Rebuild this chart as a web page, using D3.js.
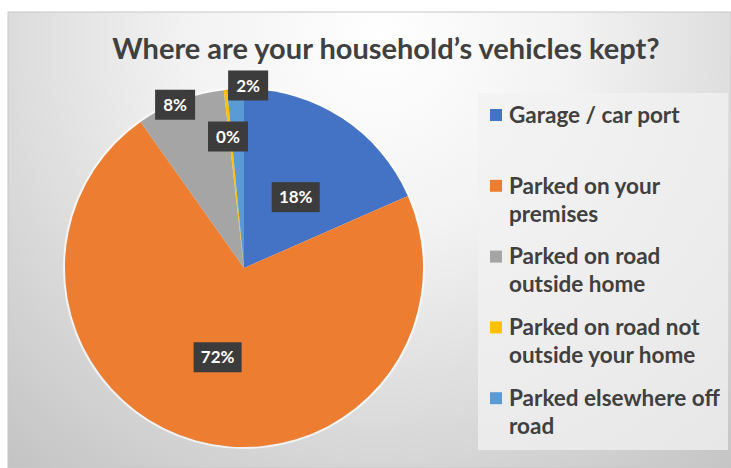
<!DOCTYPE html>
<html>
<head>
<meta charset="utf-8">
<script src="https://cdn.jsdelivr.net/npm/d3@7"></script>
<style>
  body { margin: 0; background: #fff; }
  svg { display: block; }
</style>
</head>
<body>
<script>
// Chart data
var categories = ["Garage / car port", "Parked on your premises", "Parked on road outside home",
  "Parked on road not outside your home", "Parked elsewhere off road"];
var shares = [18.4, 71.8, 8.0, 0.3, 1.5];
var legendLines = [["Garage / car port"], ["Parked on your", "premises"], ["Parked on road", "outside home"],
  ["Parked on road not", "outside your home"], ["Parked elsewhere off", "road"]];
var colors = ["#4472c4", "#ed7d31", "#a5a5a5", "#ffc000", "#5b9bd5"];

var svgWidth = 731, svgHeight = 468;
var cx = 244, cy = 268, radius = 179;

// label placement (fraction of radius, angle nudge in degrees)
var labelRadius = [0.49, 0.52, 0.99, 0.74, 1.02];
var labelNudge = [3, 1, -2, -1, 4];

var svg = d3.select("body").append("svg")
  .attr("width", svgWidth)
  .attr("height", svgHeight);

var defs = svg.append("defs");
var grad = defs.append("radialGradient")
  .attr("id", "bg")
  .attr("gradientUnits", "userSpaceOnUse")
  .attr("cx", 380).attr("cy", 40).attr("r", 560);
grad.append("stop").attr("offset", "0").attr("stop-color", "#ffffff");
grad.append("stop").attr("offset", "0.35").attr("stop-color", "#f2f2f2");
grad.append("stop").attr("offset", "1").attr("stop-color", "#c4c4c4");

// chart area
svg.append("rect")
  .attr("x", 8).attr("y", 12)
  .attr("width", svgWidth - 8).attr("height", svgHeight - 12)
  .attr("fill", "url(#bg)")
  .attr("stroke", "#c8c8c8")
  .attr("stroke-width", 1);

// title
svg.append("text")
  .attr("x", 386).attr("y", 59)
  .attr("text-anchor", "middle")
  .attr("font-family", "Lato, 'Noto Sans', sans-serif")
  .attr("font-weight", "bold")
  .attr("font-size", "29px")
  .attr("fill", "#404040")
  .text("Where are your household\u2019s vehicles kept?");

// pie
var pie = d3.pie().sort(null).value(d => d);
var arc = d3.arc().innerRadius(0).outerRadius(radius);
var arcs = pie(shares);

var pieGroup = svg.append("g")
  .attr("transform", `translate(${cx}, ${cy})`);

pieGroup.append("circle")
  .attr("r", radius + 1)
  .attr("fill", "none")
  .attr("stroke", "#ffffff")
  .attr("stroke-opacity", 0.7)
  .attr("stroke-width", 2);

pieGroup.selectAll("path")
  .data(arcs)
  .enter()
  .append("path")
  .attr("d", arc)
  .attr("fill", (d, i) => colors[i]);

// data labels
var labels = pieGroup.selectAll("g.lbl")
  .data(arcs)
  .enter()
  .append("g")
  .attr("class", "lbl")
  .attr("transform", function(d, i) {
    var a = (d.startAngle + d.endAngle) / 2 + labelNudge[i] * Math.PI / 180;
    var r = labelRadius[i] * radius;
    return `translate(${r * Math.sin(a)}, ${-r * Math.cos(a)})`;
  });

labels.append("rect")
  .attr("x", d => Math.round(d.value) >= 10 ? -24 : -20)
  .attr("y", -15)
  .attr("width", d => Math.round(d.value) >= 10 ? 48 : 40)
  .attr("height", 30)
  .attr("fill", "#3c3c3c");

labels.append("text")
  .attr("text-anchor", "middle")
  .attr("dy", "0.36em")
  .attr("font-family", "Lato, 'Noto Sans', sans-serif")
  .attr("font-weight", "bold")
  .attr("font-size", "17px")
  .attr("fill", "#ffffff")
  .text(d => Math.round(d.value) + "%");

// legend
svg.append("rect")
  .attr("x", 478).attr("y", 93)
  .attr("width", 250).attr("height", 357)
  .attr("fill", "#f2f2f2")
  .attr("fill-opacity", 0.75);

var legend = svg.selectAll("g.legend")
  .data(categories)
  .enter()
  .append("g")
  .attr("class", "legend")
  .attr("transform", (d, i) => `translate(490, ${115 + i * 70.8})`);

legend.append("rect")
  .attr("x", 0).attr("y", -6)
  .attr("width", 12).attr("height", 12)
  .attr("fill", (d, i) => colors[i]);

legend.append("text")
  .attr("font-family", "Lato, 'Noto Sans', sans-serif")
  .attr("font-weight", "bold")
  .attr("font-size", "22.5px")
  .attr("fill", "#404040")
  .selectAll("tspan")
  .data((d, i) => legendLines[i])
  .enter()
  .append("tspan")
  .attr("x", 19)
  .attr("y", (d, j) => j * 28)
  .attr("dy", "0.35em")
  .text(d => d);
</script>
</body>
</html>
